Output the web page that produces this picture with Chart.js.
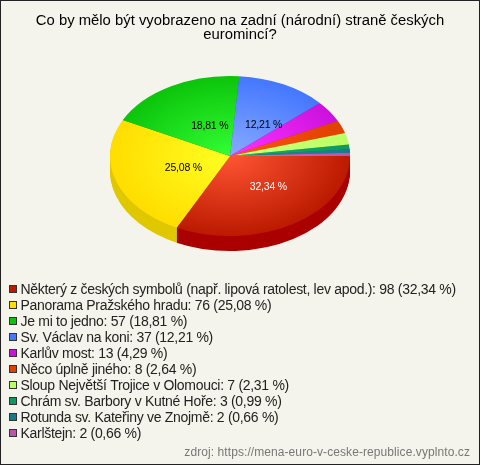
<!DOCTYPE html>
<html>
<head>
<meta charset="utf-8">
<style>
  html, body { margin: 0; padding: 0; background: #f5f4ec; }
  #wrap { position: relative; width: 480px; height: 465px; }
  canvas { display: block; }
</style>
<script src="https://cdn.jsdelivr.net/npm/chart.js@4"></script>
</head>
<body>
<div id="wrap"><canvas id="chart" width="480" height="465"></canvas></div>
<script>
const titleLines = ["Co by mělo být vyobrazeno na zadní (národní) straně českých", "euromincí?"];
const sourceText = "zdroj: https://mena-euro-v-ceske-republice.vyplnto.cz";
const categories = [
  "Některý z českých symbolů (např. lipová ratolest, lev apod.)",
  "Panorama Pražského hradu",
  "Je mi to jedno",
  "Sv. Václav na koni",
  "Karlův most",
  "Něco úplně jiného",
  "Sloup Největší Trojice v Olomouci",
  "Chrám sv. Barbory v Kutné Hoře",
  "Rotunda sv. Kateřiny ve Znojmě",
  "Karlštejn"
];
const votes = [98, 76, 57, 37, 13, 8, 7, 3, 2, 2];
const percents = ["32,34", "25,08", "18,81", "12,21", "4,29", "2,64", "2,31", "0,99", "0,66", "0,66"];
const innerColors = ["#ff5533", "#ffff22", "#33ff33", "#88aaff", "#ff33ff", "#ff5511", "#ccff77", "#11aa66", "#228899", "#dd66cc"];
const outerColors = ["#bb1a00", "#ffdd00", "#0bc40b", "#4477ff", "#cc11dd", "#e04000", "#bbff66", "#0f9960", "#1a7a8c", "#bb55aa"];
const depthColors = ["#aa0000", "#e0c800", "#0a9a0a", "#3355cc", "#a00fb0", "#b03000", "#99cc55", "#0c7a4c", "#156270", "#994488"];

// pie is squashed to an ellipse, these place it on the page
const pieCenterX = 230;
const pieCenterY = 156;
const squash = 2 / 3;
const depth = 15;
const fontFamily = "'Liberation Sans', Arial, sans-serif";

function squashed(ctx, arc) {
  ctx.translate(pieCenterX, pieCenterY);
  ctx.scale(1, squash);
  ctx.translate(-arc.x, -arc.y);
}

const pie3d = {
  id: "pie3d",
  beforeDatasetDraw(chart) {
    const ctx = chart.ctx;
    const arcs = chart.getDatasetMeta(0).data;
    // side wall
    for (let d = depth; d > 0; d--) {
      arcs.forEach((arc, i) => {
        const o = arc.options;
        arc.options = Object.assign({}, o, { backgroundColor: depthColors[i], borderWidth: 0 });
        ctx.save();
        ctx.translate(0, d);
        squashed(ctx, arc);
        arc.draw(ctx);
        ctx.restore();
        arc.options = o;
      });
    }
    ctx.save();
    squashed(ctx, arcs[0]);
  },
  afterDatasetDraw(chart) {
    chart.ctx.restore();
  },
  afterDraw(chart) {
    const ctx = chart.ctx;
    const arcs = chart.getDatasetMeta(0).data;
    ctx.save();
    // percent labels on the big slices
    ctx.font = "10.5px " + fontFamily;
    ctx.letterSpacing = "-0.2px";
    ctx.textAlign = "center";
    ctx.textBaseline = "middle";
    arcs.forEach((arc, i) => {
      if (votes[i] < 30) return;
      const mid = (arc.startAngle + arc.endAngle) / 2;
      const x = pieCenterX + 0.48 * arc.outerRadius * Math.cos(mid) + 8;
      const y = pieCenterY + 0.45 * arc.outerRadius * squash * Math.sin(mid) + 1;
      ctx.fillStyle = i === 0 ? "#ffffff" : "#000000";
      ctx.fillText(percents[i] + " %", x, y);
    });
    // legend, one row per category
    ctx.font = "14px " + fontFamily;
    ctx.letterSpacing = "-0.3px";
    ctx.textAlign = "left";
    categories.forEach((name, i) => {
      const y = 290 + i * 16;
      const top = y - 4.5;
      ctx.fillStyle = outerColors[i];
      ctx.fillRect(9.5, top, 7, 7);
      ctx.strokeStyle = "#333333";
      ctx.lineWidth = 1;
      ctx.strokeRect(9.5, top, 7, 7);
      ctx.fillStyle = "#222222";
      ctx.fillText(name + ": " + votes[i] + " (" + percents[i] + " %)", 20.5, y);
    });
    // source line
    ctx.font = "12px " + fontFamily;
    ctx.letterSpacing = "0.08px";
    ctx.textAlign = "right";
    ctx.fillStyle = "#777777";
    ctx.fillText(sourceText, 470, 453);
    // frame
    ctx.letterSpacing = "0px";
    ctx.strokeStyle = "#222222";
    ctx.strokeRect(0.5, 0.5, 479, 464);
    ctx.restore();
  }
};

new Chart(document.getElementById("chart"), {
  type: "pie",
  data: {
    labels: categories,
    datasets: [{
      data: votes,
      radius: 120,
      borderWidth: 0,
      backgroundColor(c) {
        const area = c.chart.chartArea;
        if (!area) return outerColors[c.dataIndex];
        const cx = (area.left + area.right) / 2;
        const cy = (area.top + area.bottom) / 2;
        const g = c.chart.ctx.createRadialGradient(cx, cy, 0, cx, cy, 120);
        g.addColorStop(0, innerColors[c.dataIndex]);
        g.addColorStop(1, outerColors[c.dataIndex]);
        return g;
      }
    }]
  },
  options: {
    responsive: false,
    animation: false,
    rotation: 90,
    layout: { padding: { bottom: 160 } },
    plugins: {
      legend: { display: false },
      tooltip: { enabled: false },
      title: {
        display: true,
        text: titleLines,
        color: "#000000",
        font: { family: fontFamily, size: 14.85, weight: "normal", lineHeight: 0.95 },
        padding: { top: 14, bottom: 4 }
      }
    }
  },
  plugins: [pie3d]
});
</script>
</body>
</html>
